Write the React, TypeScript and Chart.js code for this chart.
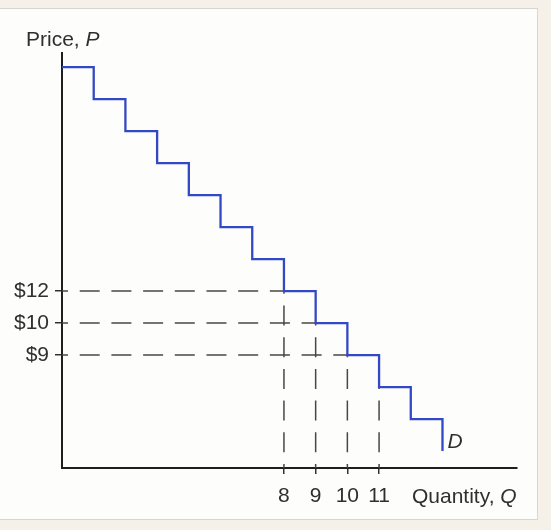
import React, { useEffect, useRef } from "react";
import { Chart, registerables } from "chart.js";

Chart.register(...registerables);

// Step demand curve: quantity breakpoints and price levels (one level per step)
const demandQuantity = [1, 2, 3, 4, 5, 6, 7, 8, 9, 10, 11, 12, 13];
const demandLevel = [13, 12, 11, 10, 9, 8, 7, 6, 5, 4, 3, 2, 1];

// Price tick labels on the vertical axis
const priceTickLevels = [6, 5, 4];
const priceTickLabels = ["$12", "$10", "$9"];

// Quantity ticks on the horizontal axis
const quantityTicks = [8, 9, 10, 11];

// Guide corners (quantity, level) for dashed lines
const horizontalGuideQ = [8, 9, 10];
const horizontalGuideLevel = [6, 5, 4];
const verticalGuideQ = [8, 9, 10, 11];
const verticalGuideLevel = [6, 5, 4, 3];

const X_MIN = 1;
const X_MAX = 15.35;
const Y_MIN = 0.47;
const Y_MAX = 13.44;

const FONT = "'Liberation Sans', Arial, sans-serif";
const FS = 21;
const TEXT = "#2f2f2f";

const labelsPlugin = {
  id: "econLabels",
  afterDraw(chart: any) {
    const ctx = chart.ctx;
    const xs = chart.scales.x;
    const ys = chart.scales.y;
    ctx.save();
    ctx.fillStyle = TEXT;
    ctx.textBaseline = "alphabetic";
    const drawMixed = (x: number, y: number, plain: string, ital: string) => {
      ctx.font = `${FS}px ${FONT}`;
      ctx.textAlign = "left";
      ctx.fillText(plain, x, y);
      const w = ctx.measureText(plain).width;
      ctx.font = `italic ${FS}px ${FONT}`;
      ctx.fillText(ital, x + w, y);
    };
    drawMixed(26, 46, "Price, ", "P");
    drawMixed(412, 503, "Quantity, ", "Q");
    // D label near end of demand curve
    const lastQ = demandQuantity[demandQuantity.length - 1];
    const lastL = demandLevel[demandLevel.length - 1];
    ctx.font = `italic ${FS}px ${FONT}`;
    ctx.fillText("D", xs.getPixelForValue(lastQ) + 5, ys.getPixelForValue(lastL) - 3);
    ctx.restore();
  },
};

export default function App() {
  const ref = useRef<HTMLCanvasElement>(null);

  useEffect(() => {
    const canvas = ref.current;
    if (!canvas) return;

    const guideColor = "#474747";
    const dash = [20, 11.7];

    const hGuides = horizontalGuideQ.map((q, i) => ({
      data: [
        { x: X_MIN, y: horizontalGuideLevel[i] },
        { x: q, y: horizontalGuideLevel[i] },
      ],
      showLine: true,
      borderColor: guideColor,
      borderWidth: 1.5,
      borderDash: dash,
      borderDashOffset: 14,
      pointRadius: 0,
      order: 2,
    }));
    const vGuides = verticalGuideQ.map((q, i) => ({
      data: [
        { x: q, y: Y_MIN },
        { x: q, y: verticalGuideLevel[i] },
      ],
      showLine: true,
      borderColor: guideColor,
      borderWidth: 1.5,
      borderDash: dash,
      borderDashOffset: 16,
      pointRadius: 0,
      order: 2,
    }));

    const chart = new Chart(canvas, {
      type: "scatter",
      data: {
        datasets: [
          {
            data: demandQuantity.map((q, i) => ({ x: q, y: demandLevel[i] })),
            showLine: true,
            stepped: "before",
            borderColor: "#3447c4",
            borderWidth: 2.3,
            pointRadius: 0,
            order: 1,
          } as any,
          ...hGuides,
          ...vGuides,
        ],
      },
      options: {
        animation: false,
        responsive: false,
        maintainAspectRatio: false,
        layout: { padding: { left: 0, top: 53, right: 34, bottom: 22 } },
        plugins: {
          legend: { display: false },
          tooltip: { enabled: false },
        },
        scales: {
          x: {
            type: "linear",
            min: X_MIN,
            max: X_MAX,
            afterBuildTicks: (s: any) => {
              s.ticks = quantityTicks.map((v) => ({ value: v }));
            },
            afterFit: (s: any) => {
              s.height = 40;
            },
            ticks: {
              autoSkip: false,
              maxRotation: 0,
              padding: 10,
              color: TEXT,
              font: { family: FONT, size: FS },
              callback: (v: any) => String(v),
            },
            grid: {
              drawOnChartArea: false,
              drawTicks: true,
              tickLength: 6,
              color: "#333",
              lineWidth: 1.5,
            },
            border: { color: "#1e1e1e", width: 2 },
          },
          y: {
            type: "linear",
            min: Y_MIN,
            max: Y_MAX,
            afterBuildTicks: (s: any) => {
              s.ticks = priceTickLevels.map((v) => ({ value: v }));
            },
            afterFit: (s: any) => {
              s.width = 62;
            },
            ticks: {
              autoSkip: false,
              padding: 6,
              color: TEXT,
              font: { family: FONT, size: FS },
              callback: (v: any) => {
                const idx = priceTickLevels.indexOf(Number(v));
                return idx >= 0 ? priceTickLabels[idx] : "";
              },
            },
            grid: {
              drawOnChartArea: false,
              drawTicks: true,
              tickLength: 7,
              color: "#333",
              lineWidth: 1.5,
            },
            border: { color: "#1e1e1e", width: 2 },
          },
        },
      } as any,
      plugins: [labelsPlugin],
    });

    return () => chart.destroy();
  }, []);

  return (
    <div
      style={{
        position: "fixed",
        left: 0,
        top: 0,
        width: 551,
        height: 530,
        background: "#f6f1e8",
      }}
    >
      <div
        style={{
          position: "absolute",
          left: -1,
          top: 8,
          width: 539,
          height: 512,
          background: "#fdfdfb",
          border: "1px solid #d9d6d0",
          boxSizing: "border-box",
        }}
      />
      <canvas
        ref={ref}
        width={551}
        height={530}
        style={{ position: "absolute", left: 0, top: 0, width: 551, height: 530 }}
      />
    </div>
  );
}
